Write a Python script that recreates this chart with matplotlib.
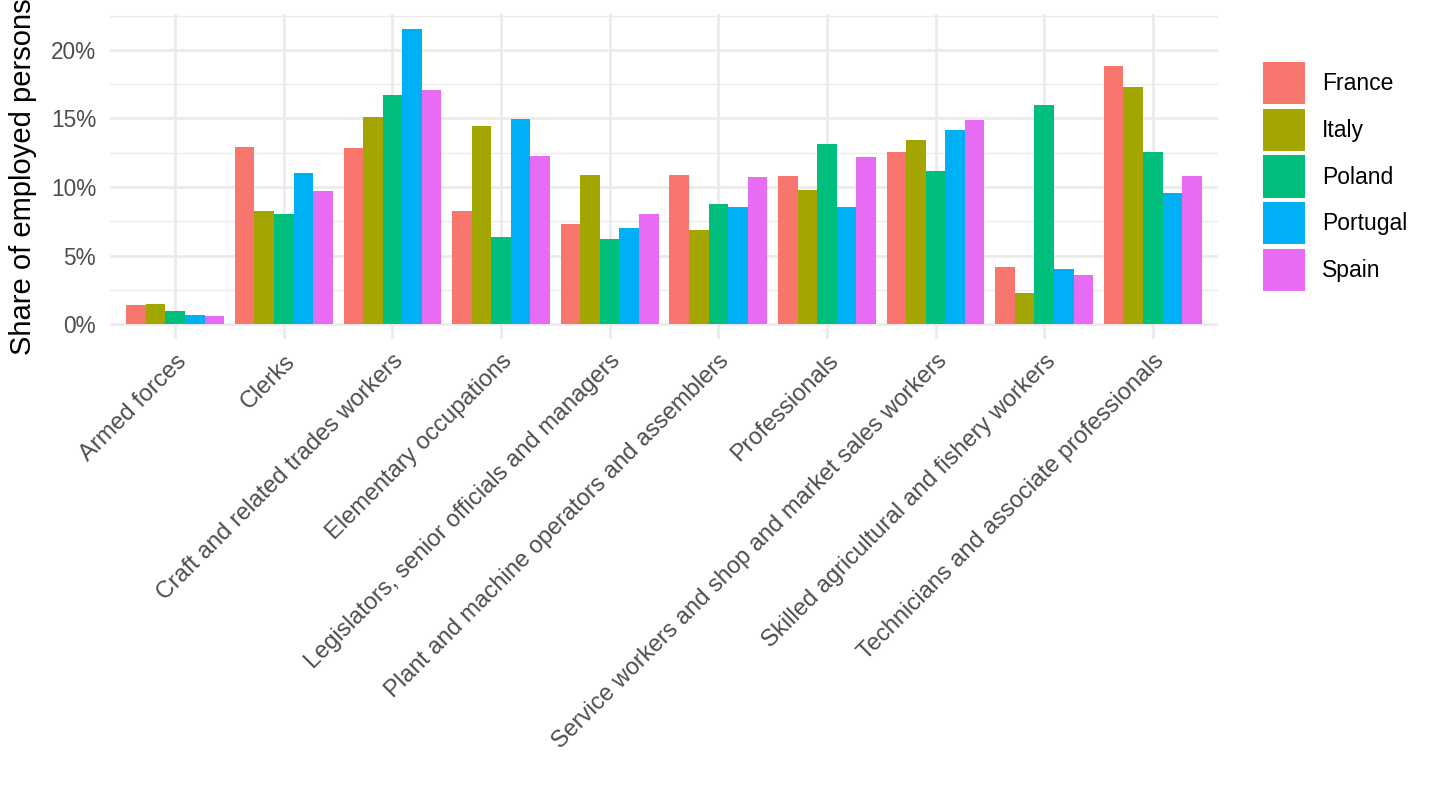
import numpy as np
import matplotlib
matplotlib.use('Agg')
import matplotlib.pyplot as plt
from matplotlib.ticker import FuncFormatter, MultipleLocator

plt.rcParams['font.family'] = ['Liberation Sans', 'DejaVu Sans']

occupations = [
    'Armed forces',
    'Clerks',
    'Craft and related trades workers',
    'Elementary occupations',
    'Legislators, senior officials and managers',
    'Plant and machine operators and assemblers',
    'Professionals',
    'Service workers and shop and market sales workers',
    'Skilled agricultural and fishery workers',
    'Technicians and associate professionals',
]

countries = ['France', 'Italy', 'Poland', 'Portugal', 'Spain']
colors = ['#F8766D', '#A3A500', '#00BF7D', '#00B0F6', '#E76BF3']

# share of employed persons, in %
france = [1.37, 12.90, 12.83, 8.29, 7.34, 10.85, 10.78, 12.54, 4.20, 18.83]
italy = [1.44, 8.29, 15.10, 14.44, 10.85, 6.90, 9.76, 13.41, 2.29, 17.29]
poland = [0.98, 8.07, 16.70, 6.39, 6.24, 8.73, 13.12, 11.15, 15.98, 12.54]
portugal = [0.68, 11.00, 21.54, 14.95, 6.98, 8.51, 8.51, 14.15, 4.05, 9.54]
spain = [0.61, 9.68, 17.07, 12.24, 8.00, 10.71, 12.17, 14.88, 3.61, 10.78]

series = [france, italy, poland, portugal, spain]

fig = plt.figure(figsize=(14.4, 8.1), dpi=100)
ax = fig.add_axes([110 / 1440, 1 - 339 / 810, 1108 / 1440, 325 / 810])

x = np.arange(len(occupations))
n = len(countries)
w = 0.9 / n
for j, (name, vals, c) in enumerate(zip(countries, series, colors)):
    ax.bar(x + (j - (n - 1) / 2) * w, vals, width=w, color=c, label=name, zorder=3, linewidth=0)

ymax = max(max(s) for s in series)
ax.set_ylim(-0.05 * ymax, 1.05 * ymax)
ax.set_xlim(-0.6, len(occupations) - 0.4)

ax.yaxis.set_major_locator(MultipleLocator(5))
ax.yaxis.set_minor_locator(MultipleLocator(2.5))
ax.yaxis.set_major_formatter(FuncFormatter(lambda v, p: f'{v:.0f}%'))
ax.set_xticks(x)
ax.set_xticklabels(occupations, rotation=45, ha='right', va='top', rotation_mode='anchor')

ax.grid(which='major', axis='both', color='#EBEBEB', linewidth=2.0, zorder=0)
ax.grid(which='minor', axis='y', color='#EBEBEB', linewidth=1.0, zorder=0)
ax.set_axisbelow(True)
for s in ax.spines.values():
    s.set_visible(False)
ax.tick_params(axis='both', which='both', length=0, labelcolor='#4D4D4D')
ax.tick_params(axis='x', pad=8, labelsize=17)
ax.tick_params(axis='y', pad=10, labelsize=16.3)

ax.set_ylabel('Share of employed persons', fontsize=21, color='black')
ax.yaxis.set_label_coords((37 - 110) / 1108, 0.5)

leg = ax.legend(loc='center left', bbox_to_anchor=(1263 / 1440, 1 - 176.5 / 810),
                bbox_transform=fig.transFigure, frameon=False, fontsize=16.5,
                handlelength=1.84, handleheight=2.45, labelspacing=0.2,
                handletextpad=0.75, borderpad=0, borderaxespad=0)

fig.savefig('out.png', dpi=100)
